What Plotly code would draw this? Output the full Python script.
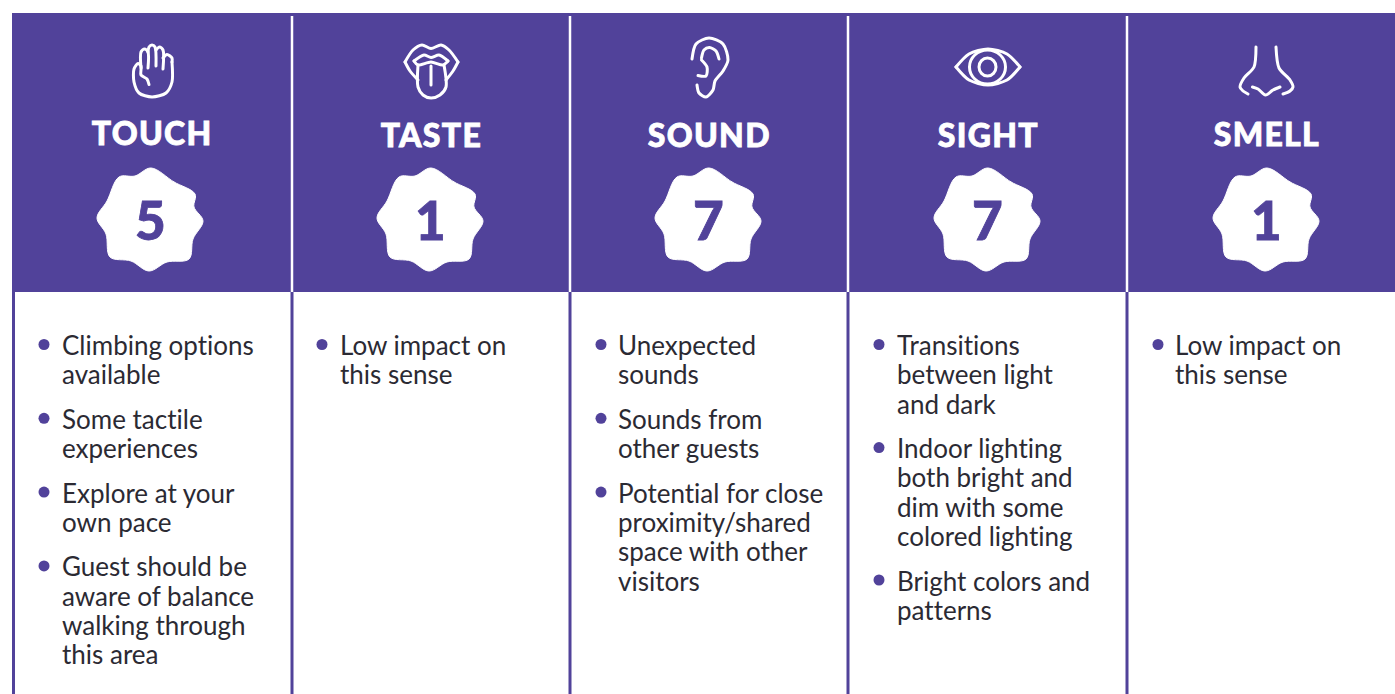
import plotly.graph_objects as go

# ---------- content ----------
senses = ["TOUCH", "TASTE", "SOUND", "SIGHT", "SMELL"]
scores = [5, 1, 7, 7, 1]
touch_notes = [["Climbing options", "available"], ["Some tactile", "experiences"],
               ["Explore at your", "own pace"],
               ["Guest should be", "aware of balance", "walking through", "this area"]]
taste_notes = [["Low impact on", "this sense"]]
sound_notes = [["Unexpected", "sounds"], ["Sounds from", "other guests"],
               ["Potential for close", "proximity/shared", "space with other", "visitors"]]
sight_notes = [["Transitions", "between light", "and dark"],
               ["Indoor lighting", "both bright and", "dim with some", "colored lighting"],
               ["Bright colors and", "patterns"]]
smell_notes = [["Low impact on", "this sense"]]
notes = [touch_notes, taste_notes, sound_notes, sight_notes, smell_notes]

# ---------- styling / layout constants (pixels) ----------
W, H = 1395, 694
PURPLE = "#51429A"
INK = "#2B2A33"
HEAD_TOP, HEAD_BOT = 13, 292
DIVIDERS = [292, 570, 848, 1127]
TITLE_X = [152, 431, 709, 988, 1267]
TITLE_Y = [132, 134, 134, 134, 133]
BADGE_X = [150, 430, 708, 987, 1266]
BADGE_Y = 220
TEXT_X = [60, 338, 616, 895, 1173]
DOT_X = [44, 322, 601, 879, 1158]
FIRST_LINE_Y = 345
LINE_STEP = 29.3
ITEM_STEP = 44.5

BADGE_DX = [1, 24, 45, 44, 53, 43, 39, 17, -1, -19, -40, -44, -53, -43, -31, -15, 1]
BADGE_DY = [-52, -38, -26, -13, 1, 19, 39, 42, 51, 41, 37, 14, -2, -19, -43, -44, -52]

ICONS = [
    [  # hand
        [(172, 62), (172, 82), (166, 93), (152, 97), (139, 93), (134, 82), (134, 69), (138, 63.5), (141, 66), (141, 75), (147, 79), (149, 84.5)],
        [(141, 68), (141, 52), (144.5, 49), (148, 52), (148, 68)],
        [(148, 52), (149, 47), (152, 45), (155, 47), (156, 66)],
        [(156, 50), (159.5, 47), (163, 50), (163, 69)],
        [(163, 58), (167, 54.5), (172, 58), (172, 62)],
    ],
    [  # mouth
        [(405, 62), (413, 50), (422, 45), (431, 48.5), (441, 45), (449, 50), (458, 62)],
        [(405, 62), (410, 71), (418, 80)],
        [(458, 62), (453, 71), (446, 80)],
        [(414, 61), (424, 55), (431, 57.5), (439, 55), (448, 61)],
        [(414, 61), (418, 65), (431, 62), (443, 65), (448, 61)],
        [(418, 65), (418, 87), (423, 95), (431, 98), (440, 95), (446, 87), (444, 65)],
        [(431, 66), (431, 85)],
    ],
    [  # ear
        [(692, 59), (696, 44), (709, 38), (723, 44), (728, 60), (723, 71), (715, 81), (713, 90), (706, 97), (699, 93), (697, 85)],
        [(701.5, 58), (704, 50), (709.5, 47.5), (716, 51), (719, 59)],
        [(701.5, 60), (707, 67), (706, 76), (698, 75.5)],
    ],
    [  # eye
        [(956, 67), (969, 54), (988, 49), (1007, 54), (1020, 67)],
        [(956, 67), (969, 80), (988, 85), (1007, 80), (1020, 67)],
    ],
    [  # nose
        [(1256, 47), (1254, 67), (1244, 78), (1240, 87), (1243, 91), (1248, 94)],
        [(1276, 47), (1279, 68), (1290, 80), (1293, 87), (1290, 91), (1283, 94)],
        [(1252.5, 87), (1258, 89), (1265.5, 95), (1273, 90), (1280, 87)],
    ],
]
EYE_RINGS = [(987.5, 67, 18, 17), (987.5, 67, 8.5, 9)]

fig = go.Figure()
shapes = [
    dict(type="rect", x0=12, x1=W, y0=HEAD_TOP, y1=HEAD_BOT, fillcolor=PURPLE, line_width=0, layer="below"),
    dict(type="line", x0=13.5, x1=13.5, y0=HEAD_BOT, y1=H, line=dict(color=PURPLE, width=3), layer="below"),
]
for x in DIVIDERS:
    shapes.append(dict(type="line", x0=x, x1=x, y0=HEAD_TOP + 3, y1=HEAD_BOT, line=dict(color="white", width=2.5), layer="below"))
    shapes.append(dict(type="line", x0=x, x1=x, y0=HEAD_BOT, y1=H, line=dict(color=PURPLE, width=3), layer="below"))
for cx, cy, rx, ry in EYE_RINGS:
    shapes.append(dict(type="circle", x0=cx - rx, x1=cx + rx, y0=cy - ry, y1=cy + ry, line=dict(color="white", width=3)))

annotations = []
def label(x, y, text, size, color, anchor="left", weight=None, family="Lato"):
    annotations.append(dict(x=x, y=y, text=text, showarrow=False, xanchor=anchor, yanchor="middle",
                            xref="x", yref="y", align=anchor,
                            font=dict(size=size, color=color, family=family, weight=weight)))

dot_x, dot_y = [], []
for i, sense in enumerate(senses):
    label(TITLE_X[i], TITLE_Y[i], sense, 32, "white", "center", 900)
    fig.add_trace(go.Scatter(
        x=[BADGE_X[i] + d for d in BADGE_DX], y=[BADGE_Y + d for d in BADGE_DY],
        mode="lines", line=dict(color="white", width=1, shape="spline", smoothing=1),
        fill="toself", fillcolor="white", hoverinfo="skip", showlegend=False))
    label(BADGE_X[i] + 0.5, BADGE_Y - 1, str(scores[i]), 53, PURPLE, "center", 900)
    for stroke in ICONS[i]:
        fig.add_trace(go.Scatter(
            x=[p[0] for p in stroke], y=[p[1] for p in stroke], mode="lines",
            line=dict(color="white", width=3, shape="spline", smoothing=0.8),
            hoverinfo="skip", showlegend=False))
    y = FIRST_LINE_Y
    for item in notes[i]:
        dot_x.append(DOT_X[i]); dot_y.append(y - 0.5)
        for j, line in enumerate(item):
            label(TEXT_X[i], y, line, 26, INK)
            y += LINE_STEP if j < len(item) - 1 else ITEM_STEP

fig.add_trace(go.Scatter(x=dot_x, y=dot_y, mode="markers", marker=dict(color=PURPLE, size=11),
                         hoverinfo="skip", showlegend=False))

fig.update_layout(
    width=W, height=H, margin=dict(l=0, r=0, t=0, b=0),
    paper_bgcolor="white", plot_bgcolor="white",
    xaxis=dict(range=[0, W], visible=False, fixedrange=True),
    yaxis=dict(range=[H, 0], visible=False, fixedrange=True),
    shapes=shapes, annotations=annotations, showlegend=False,
)
CSS = """
text,.annotation-text{font-variant-ligatures:none !important;font-feature-settings:"liga" 0,"clig" 0 !important}
.annotation-text[style*="900"]{stroke-width:.8px;paint-order:stroke}
.annotation-text[style*="900"][style*="rgb(255, 255, 255)"]{stroke:#fff;letter-spacing:1.3px}
.annotation-text[style*="900"][style*="rgb(81, 66, 154)"]{stroke:#51429A}
.js-line{stroke-linecap:round}
"""
fig.write_html("out.html", config={"displayModeBar": False},
               post_script="document.body.style.margin='0';document.body.style.overflow='hidden';"
                           "var s=document.createElement('style');s.textContent=%r;document.head.appendChild(s);" % CSS)
